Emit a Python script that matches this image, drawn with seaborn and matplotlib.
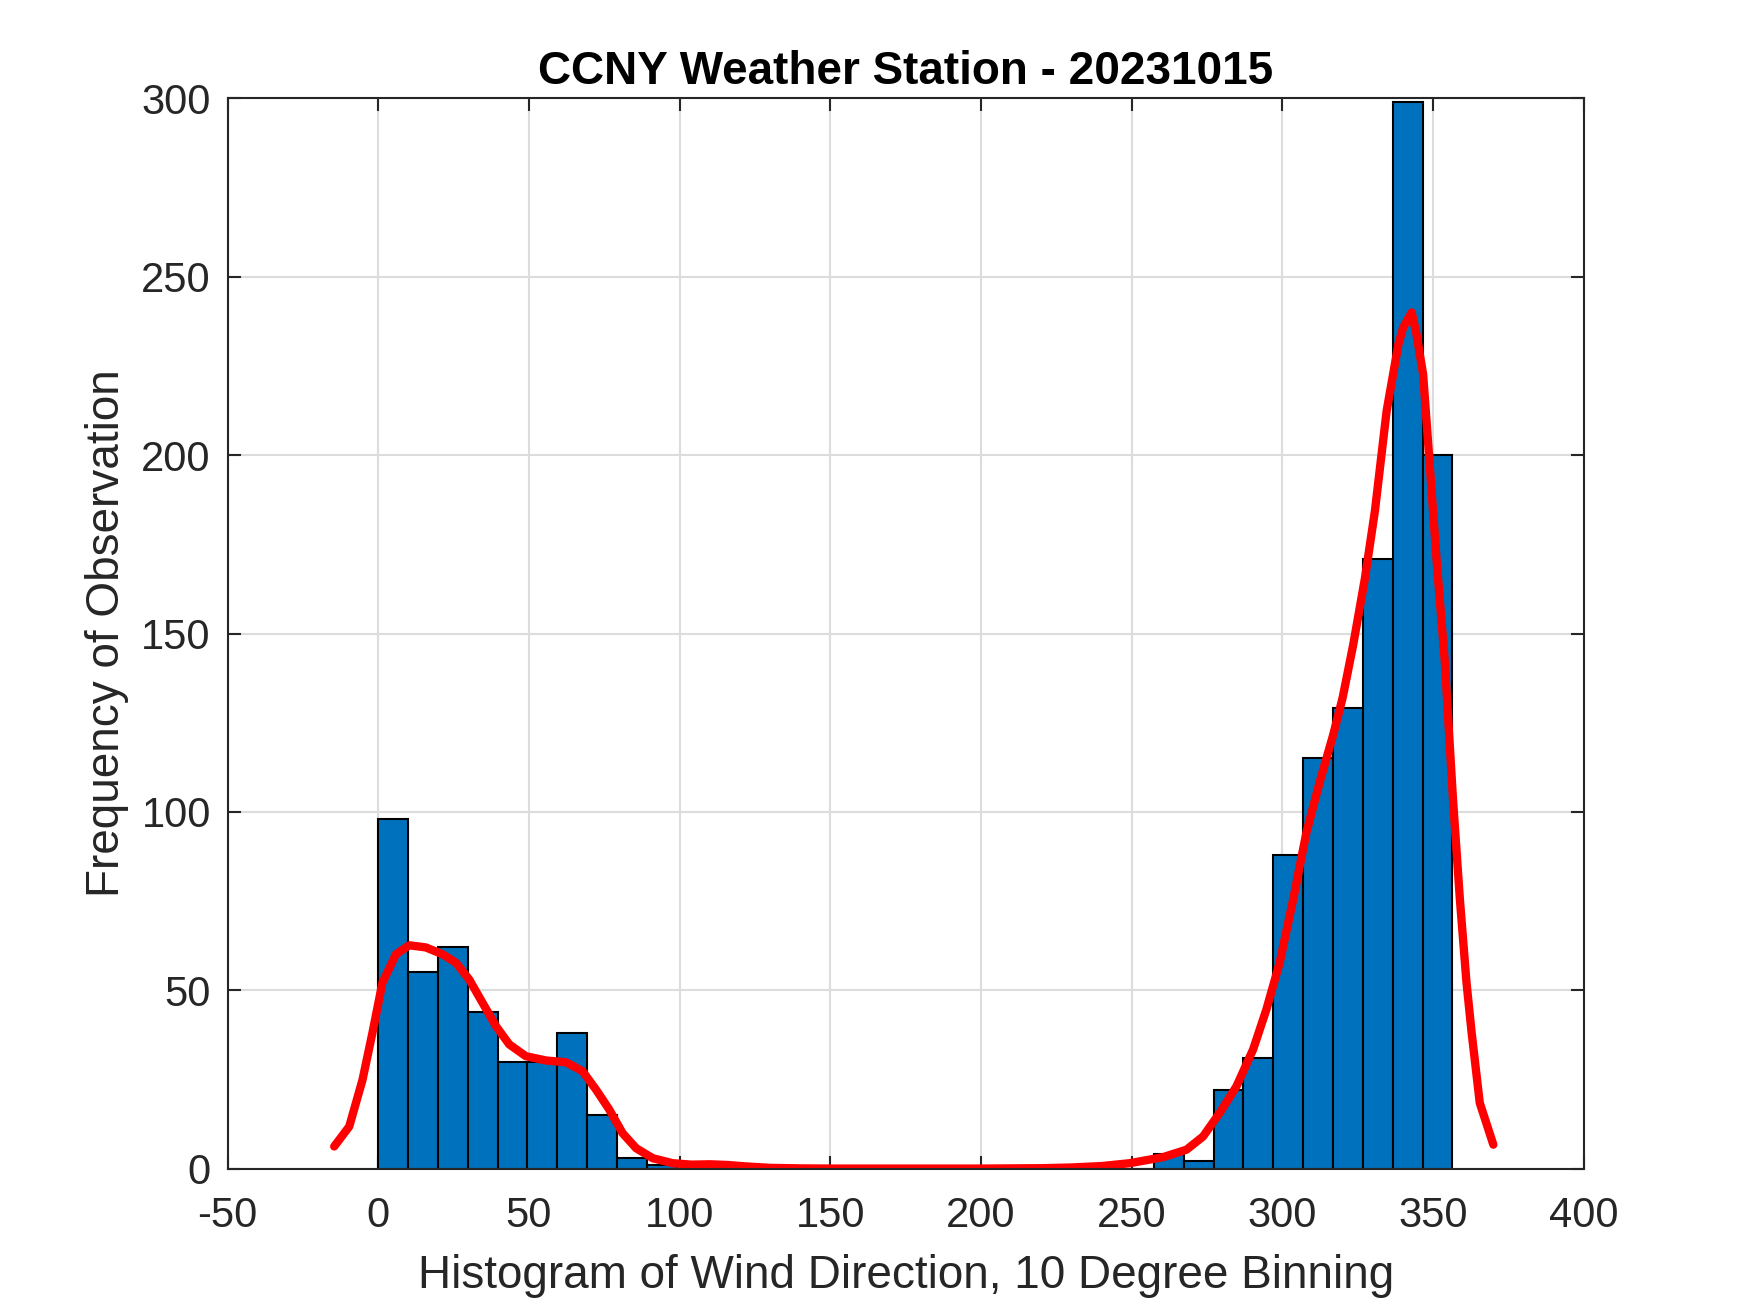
import numpy as np
import pandas as pd
import matplotlib
matplotlib.use("Agg")
import matplotlib.pyplot as plt
import seaborn as sns

# Histogram counts, 36 bins from 0 to ~356 deg
bin_start = 0.0
bin_stop = 356.4
bin_counts = [98, 55, 62, 44, 30, 30, 38, 15, 3, 1,
              0, 0, 0, 0, 0, 0, 0, 0, 0, 0,
              0, 0, 0, 0, 0, 0, 4, 2, 22, 31,
              88, 115, 129, 171, 299, 200]

# Density curve (scaled to counts)
kde_x = [-14.6, -9.6, -5.2, -1.9, 1.4, 5.9, 10.3, 15.8, 21.3, 25.8, 30.2, 34.6,
         39.1, 43.5, 49.0, 55.7, 62.3, 67.8, 72.3, 76.7, 81.1, 85.6, 91.1, 97.7,
         104, 110, 116, 122, 130, 140, 150, 200, 220, 230, 240, 249.3, 260.4,
         268.2, 273.7, 279.2, 284.8, 290.3, 294.7, 299.1, 303.6, 308.0, 312.4,
         316.8, 320.0, 323.5, 327.4, 330.7, 334.6, 338.5, 340.1, 342.9, 344.5,
         346.7, 348.4, 351.2, 353.9, 356.6, 358.9, 361.1, 362.8, 365.5, 370.0]
kde_y = [6.2, 11.8, 24.9, 38.1, 52.1, 60.1, 62.6, 62.0, 60.1, 57.7, 53.0, 46.5,
         39.9, 34.8, 31.5, 30.3, 29.8, 27.3, 22.1, 16.5, 9.9, 5.7, 2.9, 1.5,
         1.1, 1.2, 1.0, 0.6, 0.2, 0.05, 0.0, 0.0, 0.1, 0.3, 0.7, 1.5, 3.2,
         5.3, 9.0, 15.6, 23.1, 33.4, 44.6, 57.7, 75.5, 94.3, 108.4,
         121.4, 132.0, 146.8, 165.5, 184.3, 212.4, 231.1, 235.8, 240.0, 233.9,
         222.7, 203.0, 170.2, 142.1, 103.7, 75.5, 52.1, 38.1, 18.4, 6.7]

x_ticks = list(range(-50, 401, 50))
y_ticks = list(range(0, 301, 50))

n_bins = len(bin_counts)
bin_width = (bin_stop - bin_start) / n_bins
centers = bin_start + bin_width * (np.arange(n_bins) + 0.5)
df = pd.DataFrame({"direction": centers, "count": bin_counts})
curve = pd.DataFrame({"x": kde_x, "y": kde_y})

sns.set_theme(style="white")
plt.rcParams['font.family'] = ['Liberation Sans', 'DejaVu Sans']
plt.rcParams['axes.unicode_minus'] = False
axis_col = "#262626"

fig = plt.figure(figsize=(1750 / 300, 1313 / 300), dpi=300)
ax = fig.add_axes([0.13, 0.11, 0.775, 0.815])

sns.histplot(data=df, x="direction", weights="count", binwidth=bin_width,
             binrange=(bin_start, bin_stop), color="#0072BD", edgecolor="black",
             linewidth=0.5, alpha=1, ax=ax)
sns.lineplot(data=curve, x="x", y="y", sort=False, color="red", linewidth=2, ax=ax)

ax.set_xlim(-50, 400)
ax.set_ylim(0, 300)
ax.set_xticks(x_ticks)
ax.set_yticks(y_ticks)
ax.set_axisbelow(True)
ax.grid(True, color="#dcdcdc", linewidth=0.5)

for s in ax.spines.values():
    s.set_visible(True)
    s.set_color(axis_col)
    s.set_linewidth(0.5)
ax.tick_params(axis="both", which="both", direction="in", length=3.2, width=0.5,
               colors=axis_col, labelsize=10, top=True, right=True, bottom=True, left=True)
ax.tick_params(axis="x", pad=6.5)
ax.tick_params(axis="y", pad=4)

ax.set_title("CCNY Weather Station - 20231015", fontsize=11, fontweight="bold", color="black", pad=3.5)
ax.set_xlabel("Histogram of Wind Direction, 10 Degree Binning", fontsize=11, color=axis_col, labelpad=4.5)
ax.set_ylabel("Frequency of Observation", fontsize=11, color=axis_col, labelpad=3)

fig.savefig("out.png", dpi=300)
plt.close(fig)
